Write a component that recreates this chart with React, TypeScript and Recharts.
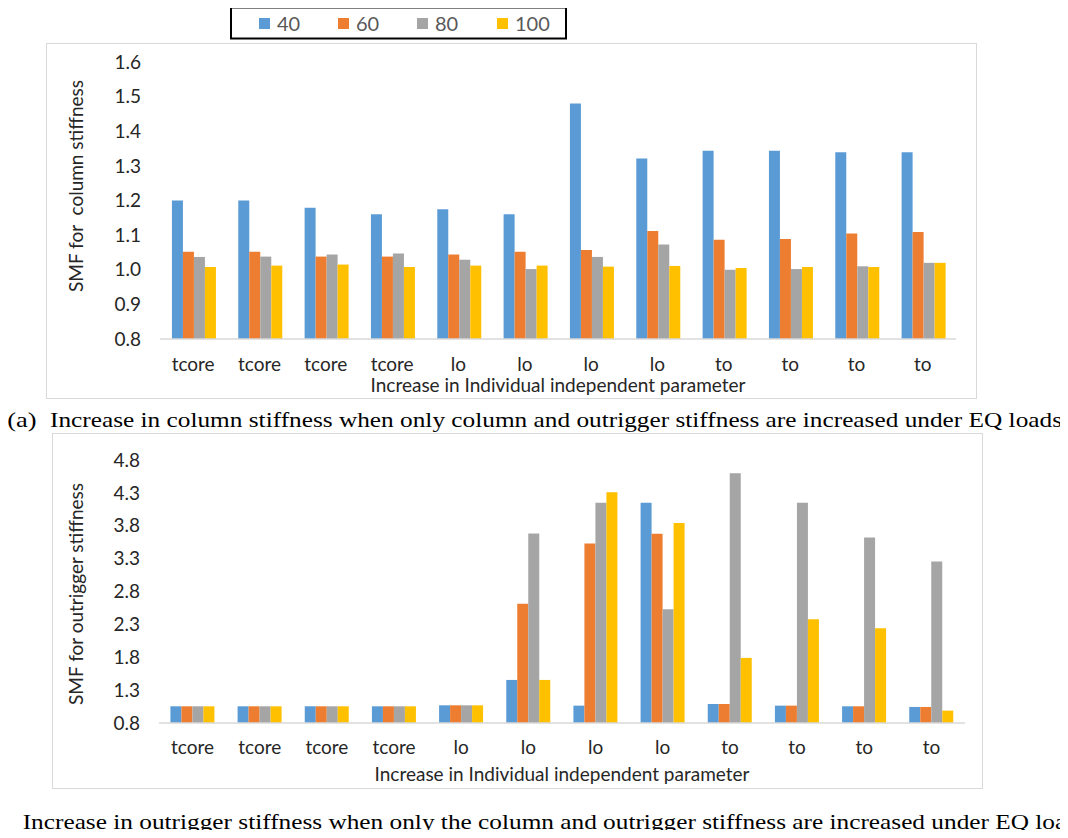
import React from 'react';
import { BarChart, Bar, XAxis, YAxis } from 'recharts';

// Category labels shared by both panels
const categories = ['tcore', 'tcore', 'tcore', 'tcore', 'lo', 'lo', 'lo', 'lo', 'to', 'to', 'to', 'to'];

// Series (legend) names and colours
const seriesNames = ['40', '60', '80', '100'];
const seriesColors = ['#5B9BD5', '#ED7D31', '#A5A5A5', '#FFC000'];

// Panel (a): SMF for column stiffness
const column40 = [1.2, 1.2, 1.179, 1.16, 1.175, 1.16, 1.48, 1.321, 1.344, 1.344, 1.339, 1.339];
const column60 = [1.052, 1.052, 1.038, 1.038, 1.044, 1.052, 1.057, 1.112, 1.087, 1.089, 1.105, 1.109];
const column80 = [1.037, 1.038, 1.044, 1.047, 1.029, 1.002, 1.037, 1.073, 1.0, 1.002, 1.01, 1.02];
const column100 = [1.008, 1.012, 1.015, 1.008, 1.012, 1.012, 1.009, 1.011, 1.005, 1.008, 1.008, 1.02];
const columnTicks = [0.8, 0.9, 1.0, 1.1, 1.2, 1.3, 1.4, 1.5, 1.6];

// Panel (b): SMF for outrigger stiffness
const outrigger40 = [1.054, 1.054, 1.054, 1.054, 1.069, 1.455, 1.064, 4.15, 1.089, 1.064, 1.054, 1.044];
const outrigger60 = [1.054, 1.054, 1.054, 1.054, 1.069, 2.612, 3.531, 3.68, 1.089, 1.064, 1.054, 1.044];
const outrigger80 = [1.054, 1.054, 1.054, 1.054, 1.069, 3.683, 4.15, 2.531, 4.597, 4.15, 3.622, 3.257];
const outrigger100 = [1.054, 1.054, 1.054, 1.054, 1.069, 1.455, 4.308, 3.841, 1.79, 2.379, 2.242, 0.988];
const outriggerTicks = [0.8, 1.3, 1.8, 2.3, 2.8, 3.3, 3.8, 4.3, 4.8];

const xTitle = 'Increase in Individual independent parameter';
const yTitleA = 'SMF for  column stiffness';
const yTitleB = 'SMF for outrigger stiffness';
const captionA = 'Increase in column stiffness when only column and outrigger stiffness are increased under EQ loads';
const captionB = 'Increase in outrigger stiffness when only the column and outrigger stiffness are increased under EQ loads';

const seriesKeys = ['s40', 's60', 's80', 's100'];

const buildRows = (series: number[][]) =>
  categories.map((name, i) => {
    const row: Record<string, number | string> = { name };
    seriesKeys.forEach((k, j) => {
      row[k] = series[j][i];
    });
    return row;
  });

const columnRows = buildRows([column40, column60, column80, column100]);
const outriggerRows = buildRows([outrigger40, outrigger60, outrigger80, outrigger100]);

const chartFont = 'Lato, "Noto Sans", sans-serif';
const serifFont = '"Liberation Serif", serif';
const tickStyle = { fontFamily: chartFont, fontSize: 19, fill: '#262626' };

type PanelProps = {
  rows: Record<string, number | string>[];
  left: number;
  top: number;
  margin: { top: number; right: number; bottom: number; left: number };
  yWidth: number;
  xHeight: number;
  xTickMargin: number;
  domain: [number, number];
  ticks: number[];
  gap: string;
};

function Panel({ rows, left, top, margin, yWidth, xHeight, xTickMargin, domain, ticks, gap }: PanelProps) {
  return (
    <>
      <div
        style={{
          position: 'absolute',
          left,
          top,
          width: 931,
          height: 356,
          boxSizing: 'border-box',
          border: '1.5px solid #d9d9d9',
        }}
      />
      <div style={{ position: 'absolute', left, top }}>
        <BarChart width={931} height={356} data={rows} margin={margin} barCategoryGap={gap} barGap={0}>
          <XAxis
            dataKey="name"
            interval={0}
            tickLine={false}
            tickSize={0}
            tickMargin={xTickMargin}
            height={xHeight}
            axisLine={{ stroke: '#d9d9d9', strokeWidth: 1.5 }}
            tick={tickStyle}
          />
          <YAxis
            type="number"
            domain={domain}
            ticks={ticks}
            interval={0}
            width={yWidth}
            axisLine={false}
            tickLine={false}
            tickSize={0}
            tickMargin={19}
            tick={tickStyle}
            tickFormatter={(v: number) => v.toFixed(1)}
          />
          {seriesKeys.map((k, j) => (
            <Bar key={k} dataKey={k} name={seriesNames[j]} fill={seriesColors[j]} isAnimationActive={false} />
          ))}
        </BarChart>
      </div>
    </>
  );
}

export default function App() {
  return (
    <div style={{ position: 'relative', width: 1068, height: 838, margin: -8, background: '#fff', overflow: 'hidden' }}>
      <Panel
        rows={columnRows}
        left={46}
        top={43}
        margin={{ top: 19, right: 21, bottom: 0, left: 0 }}
        yWidth={114}
        xHeight={60}
        xTickMargin={19}
        domain={[0.8, 1.6]}
        ticks={columnTicks}
        gap="18%"
      />
      <Panel
        rows={outriggerRows}
        left={52}
        top={433}
        margin={{ top: 27, right: 18, bottom: 0, left: 0 }}
        yWidth={107}
        xHeight={66}
        xTickMargin={18}
        domain={[0.8, 4.8]}
        ticks={outriggerTicks}
        gap="17%"
      />
      <svg
        width={1068}
        height={838}
        style={{ position: 'absolute', left: 0, top: 0, pointerEvents: 'none' }}
      >
        {/* legend */}
        <rect x={231} y={7.5} width={335} height={31} fill="#fff" stroke="#000" strokeWidth={2} />
        {seriesNames.map((n, j) => {
          const sx = [259, 338, 417, 497][j];
          return (
            <g key={n}>
              <rect x={sx} y={18} width={11} height={11} fill={seriesColors[j]} />
              <text x={sx + 18} y={30.5} fontFamily={chartFont} fontSize={20} fill="#595959">
                {n}
              </text>
            </g>
          );
        })}

        {/* axis titles */}
        <text x={558} y={392} textAnchor="middle" fontFamily={chartFont} fontSize={19} fill="#262626">
          {xTitle}
        </text>
        <text
          x={83}
          y={186}
          textAnchor="middle"
          fontFamily={chartFont}
          fontSize={19}
          fill="#262626"
          transform="rotate(-90 83 186)"
          style={{ whiteSpace: 'pre' }}
        >
          {yTitleA}
        </text>
        <text x={562} y={781} textAnchor="middle" fontFamily={chartFont} fontSize={19} fill="#262626">
          {xTitle}
        </text>
        <text
          x={83}
          y={594}
          textAnchor="middle"
          fontFamily={chartFont}
          fontSize={19}
          fill="#262626"
          transform="rotate(-90 83 594)"
        >
          {yTitleB}
        </text>

        {/* captions */}
        <text x={7.3} y={426.7} fontFamily={serifFont} fontSize={21} fill="#000" textLength={29.4} lengthAdjust="spacingAndGlyphs">
          (a)
        </text>
        <text x={50} y={426.7} fontFamily={serifFont} fontSize={21} fill="#000" textLength={1012} lengthAdjust="spacingAndGlyphs">
          {captionA}
        </text>
        <text x={-25} y={829.3} fontFamily={serifFont} fontSize={21} fill="#000" textLength={30} lengthAdjust="spacingAndGlyphs">
          (b)
        </text>
        <text x={22.7} y={829.3} fontFamily={serifFont} fontSize={21} fill="#000" textLength={1066} lengthAdjust="spacingAndGlyphs">
          {captionB}
        </text>
      </svg>
    </div>
  );
}
